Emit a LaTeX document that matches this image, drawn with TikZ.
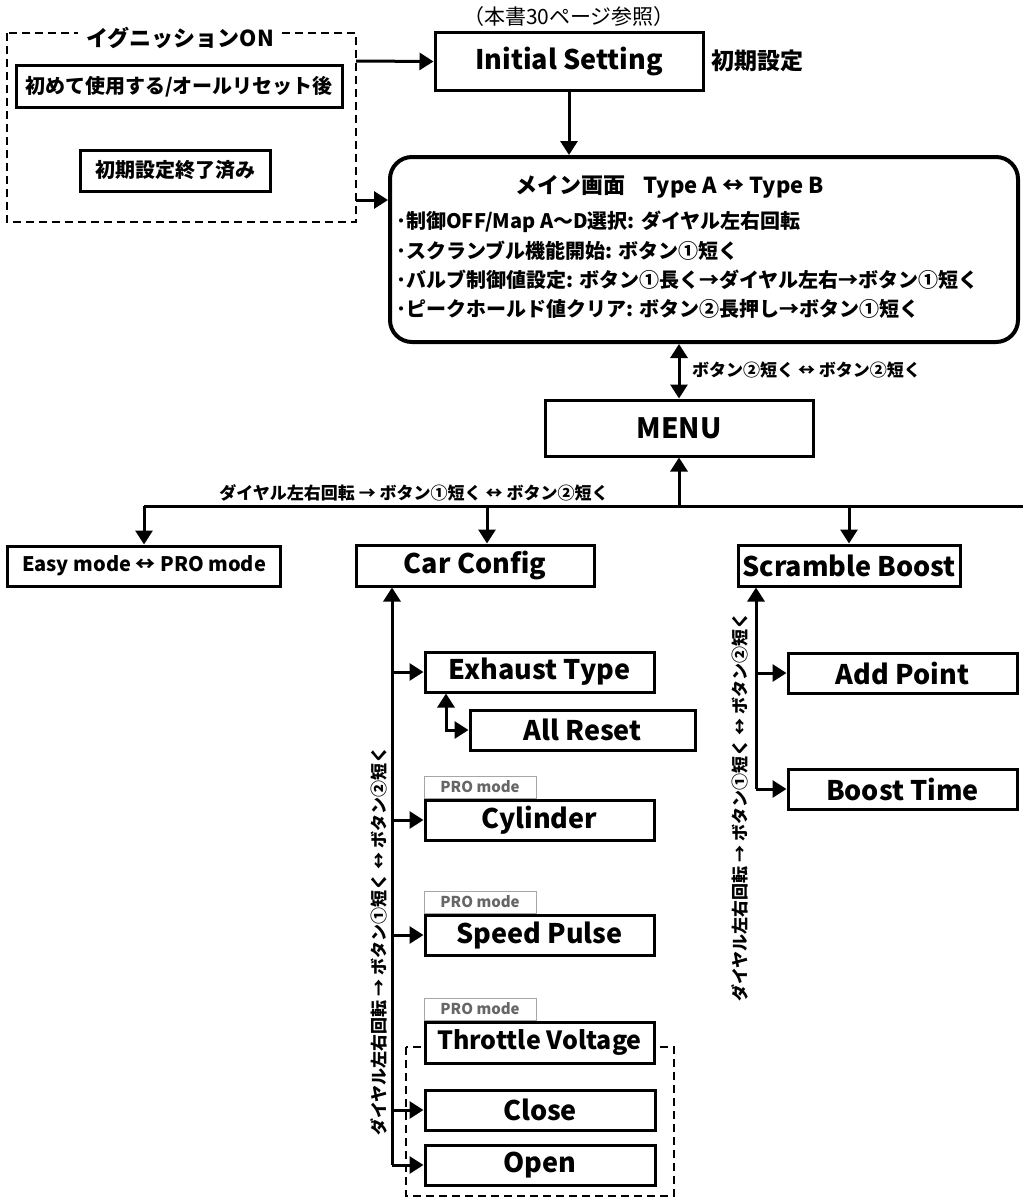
\documentclass[tikz,border=0pt]{standalone}
\usepackage{fontspec}
\setmainfont{Noto Sans CJK JP}
\usetikzlibrary{arrows.meta}
\newcommand{\fs}[1]{\fontsize{#1}{#1}\selectfont}
\begin{document}
\begin{tikzpicture}[x=1pt,y=-1pt,
  box/.style={draw, line width=3pt, fill=white, inner sep=0pt, font=\bfseries\fs{27}},
  jbox/.style={draw, line width=3pt, fill=white, inner sep=0pt, font=\bfseries\fs{20}},
  tip/.tip={Triangle[length=14pt,width=17pt]},
  arr/.style={line width=3pt, -tip},
  conn/.style={line width=3pt},
  lbl/.style={inner sep=0pt, font=\bfseries\fs{17}},
  tag/.style={draw=black!35, line width=1pt, fill=white, text=black!60, inner sep=0pt,
    minimum width=112pt, minimum height=22pt, font=\bfseries\fs{15}},
  dbox/.style={draw, line width=2pt, dash pattern=on 8pt off 5pt}
]
\useasboundingbox (0,0) rectangle (1023,1199);

% ignition dashed group
\draw[dbox] (7,33) rectangle (356,222);
\node[fill=white, inner xsep=8pt, inner ysep=0pt, font=\bfseries\fs{22}] (ign) at (180,38) {イグニッションON};
\node[jbox, minimum width=326pt, minimum height=41pt] (first) at (179,86.5) {初めて使用する/オールリセット後};
\node[jbox, minimum width=190pt, minimum height=41pt] (done) at (175,170.5) {初期設定終了済み};

% initial setting
\node[inner sep=0pt, font=\fs{21}] (ref) at (569,17) {（本書30ページ参照）};
\node[box, minimum width=268pt, minimum height=57pt] (init) at (569,61.5) {Initial Setting};
\node[inner sep=0pt, font=\bfseries\fs{23}, anchor=west] (initj) at (711,61) {初期設定};
\coordinate (ignR1) at (356,61);
\draw[arr] (ignR1) -- (init.west);

% main screen
\node[draw, line width=4pt, rounded corners=22pt, fill=white, minimum width=628pt, minimum height=185pt] (main) at (704,249.5) {};
\draw[arr] (init.south) -- (init.south |- main.north);
\coordinate (ignR2) at (356,200);
\draw[arr] (ignR2) -- (ignR2 -| main.west);
\node[inner sep=0pt, font=\bfseries\fs{22}] (mt) at (670,187) {メイン画面\hspace{0.8em}Type A ↔ Type B};
\node[inner sep=0pt, font=\bfseries\fs{20}, anchor=west] (m1) at (396,222) {･制御OFF/Map A～D選択: ダイヤル左右回転};
\node[inner sep=0pt, font=\bfseries\fs{20}, anchor=west] (m2) at (396,251) {･スクランブル機能開始: ボタン①短く};
\node[inner sep=0pt, font=\bfseries\fs{20}, anchor=west] (m3) at (396,280) {･バルブ制御値設定: ボタン①長く→ダイヤル左右→ボタン①短く};
\node[inner sep=0pt, font=\bfseries\fs{20}, anchor=west] (m4) at (396,309) {･ピークホールド値クリア: ボタン②長押し→ボタン①短く};

% MENU
\node[box, minimum width=268pt, minimum height=56pt, font=\bfseries\fs{28}] (menu) at (679,428) {MENU};
\draw[line width=3pt, tip-tip] (menu.north |- main.south) -- (menu.north);
\node[lbl, anchor=west] (l1) at (692,370) {ボタン②短く ↔ ボタン②短く};

% bus
\coordinate (busL) at (144,506);
\coordinate (busR) at (1023,506);
\draw[conn] (busL) -- (busR);
\draw[arr] (menu.south |- busL) -- (menu.south);
\node[lbl] (l2) at (414,493) {ダイヤル左右回転 → ボタン①短く ↔ ボタン②短く};

\node[box, minimum width=273pt, minimum height=40pt, font=\bfseries\fs{20}] (easy) at (144,566) {Easy mode ↔ PRO mode};
\node[box, minimum width=238pt, minimum height=41pt] (car) at (475,565.5) {Car Config};
\node[box, minimum width=222pt, minimum height=41pt] (scr) at (849,565.5) {Scramble Boost};
\coordinate (carIn) at (487,506);
\draw[arr] (busL) -- (easy.north);
\draw[arr] (carIn) -- (carIn |- car.north);
\draw[arr] (scr.north |- busL) -- (scr.north);

% car config children
\draw[dbox] (406,1047) rectangle (674,1196);
\node[box, minimum width=229pt, minimum height=40pt] (exh) at (539.5,672) {Exhaust Type};
\node[box, minimum width=225pt, minimum height=40pt] (ar) at (582.5,730) {All Reset};
\node[box, minimum width=229pt, minimum height=40pt] (cyl) at (539.5,820) {Cylinder};
\node[box, minimum width=229pt, minimum height=40pt] (spd) at (539.5,935) {Speed Pulse};
\node[box, minimum width=229pt, minimum height=41pt, font=\bfseries\fs{25}] (thr) at (539.5,1042.5) {Throttle Voltage};
\node[box, minimum width=230pt, minimum height=40pt] (cls) at (540,1110) {Close};
\node[box, minimum width=230pt, minimum height=40pt] (opn) at (540,1165) {Open};
\node[tag, anchor=south west] (t1) at (cyl.north west) {PRO mode};
\node[tag, anchor=south west] (t2) at (spd.north west) {PRO mode};
\node[tag, anchor=south west] (t3) at (thr.north west) {PRO mode};

\coordinate (cv) at (392,1165);
\draw[arr] (cv) -- (cv |- car.south);
\draw[arr] (cv |- exh.west) -- (exh.west);
\draw[arr] (cv |- cyl.west) -- (cyl.west);
\draw[arr] (cv |- spd.west) -- (spd.west);
\draw[arr] (cv |- cls.west) -- (cls.west);
\draw[arr] (cv) -- (opn.west);
\coordinate (arc) at (446,730);
\draw[line width=3pt, tip-tip] (arc |- exh.south) -- (arc) -- (ar.west);
\node[lbl, rotate=90] (l3) at (379,941) {ダイヤル左右回転 → ボタン①短く ↔ ボタン②短く};

% scramble children
\node[box, minimum width=229pt, minimum height=40pt] (add) at (902.5,673) {Add Point};
\node[box, minimum width=229pt, minimum height=40pt] (bst) at (902.5,789) {Boost Time};
\coordinate (sv) at (756,789);
\draw[arr] (sv) -- (sv |- scr.south);
\draw[arr] (sv |- add.west) -- (add.west);
\draw[arr] (sv) -- (bst.west);
\node[lbl, rotate=90] (l4) at (740,807) {ダイヤル左右回転 → ボタン①短く ↔ ボタン②短く};
\end{tikzpicture}
\end{document}
